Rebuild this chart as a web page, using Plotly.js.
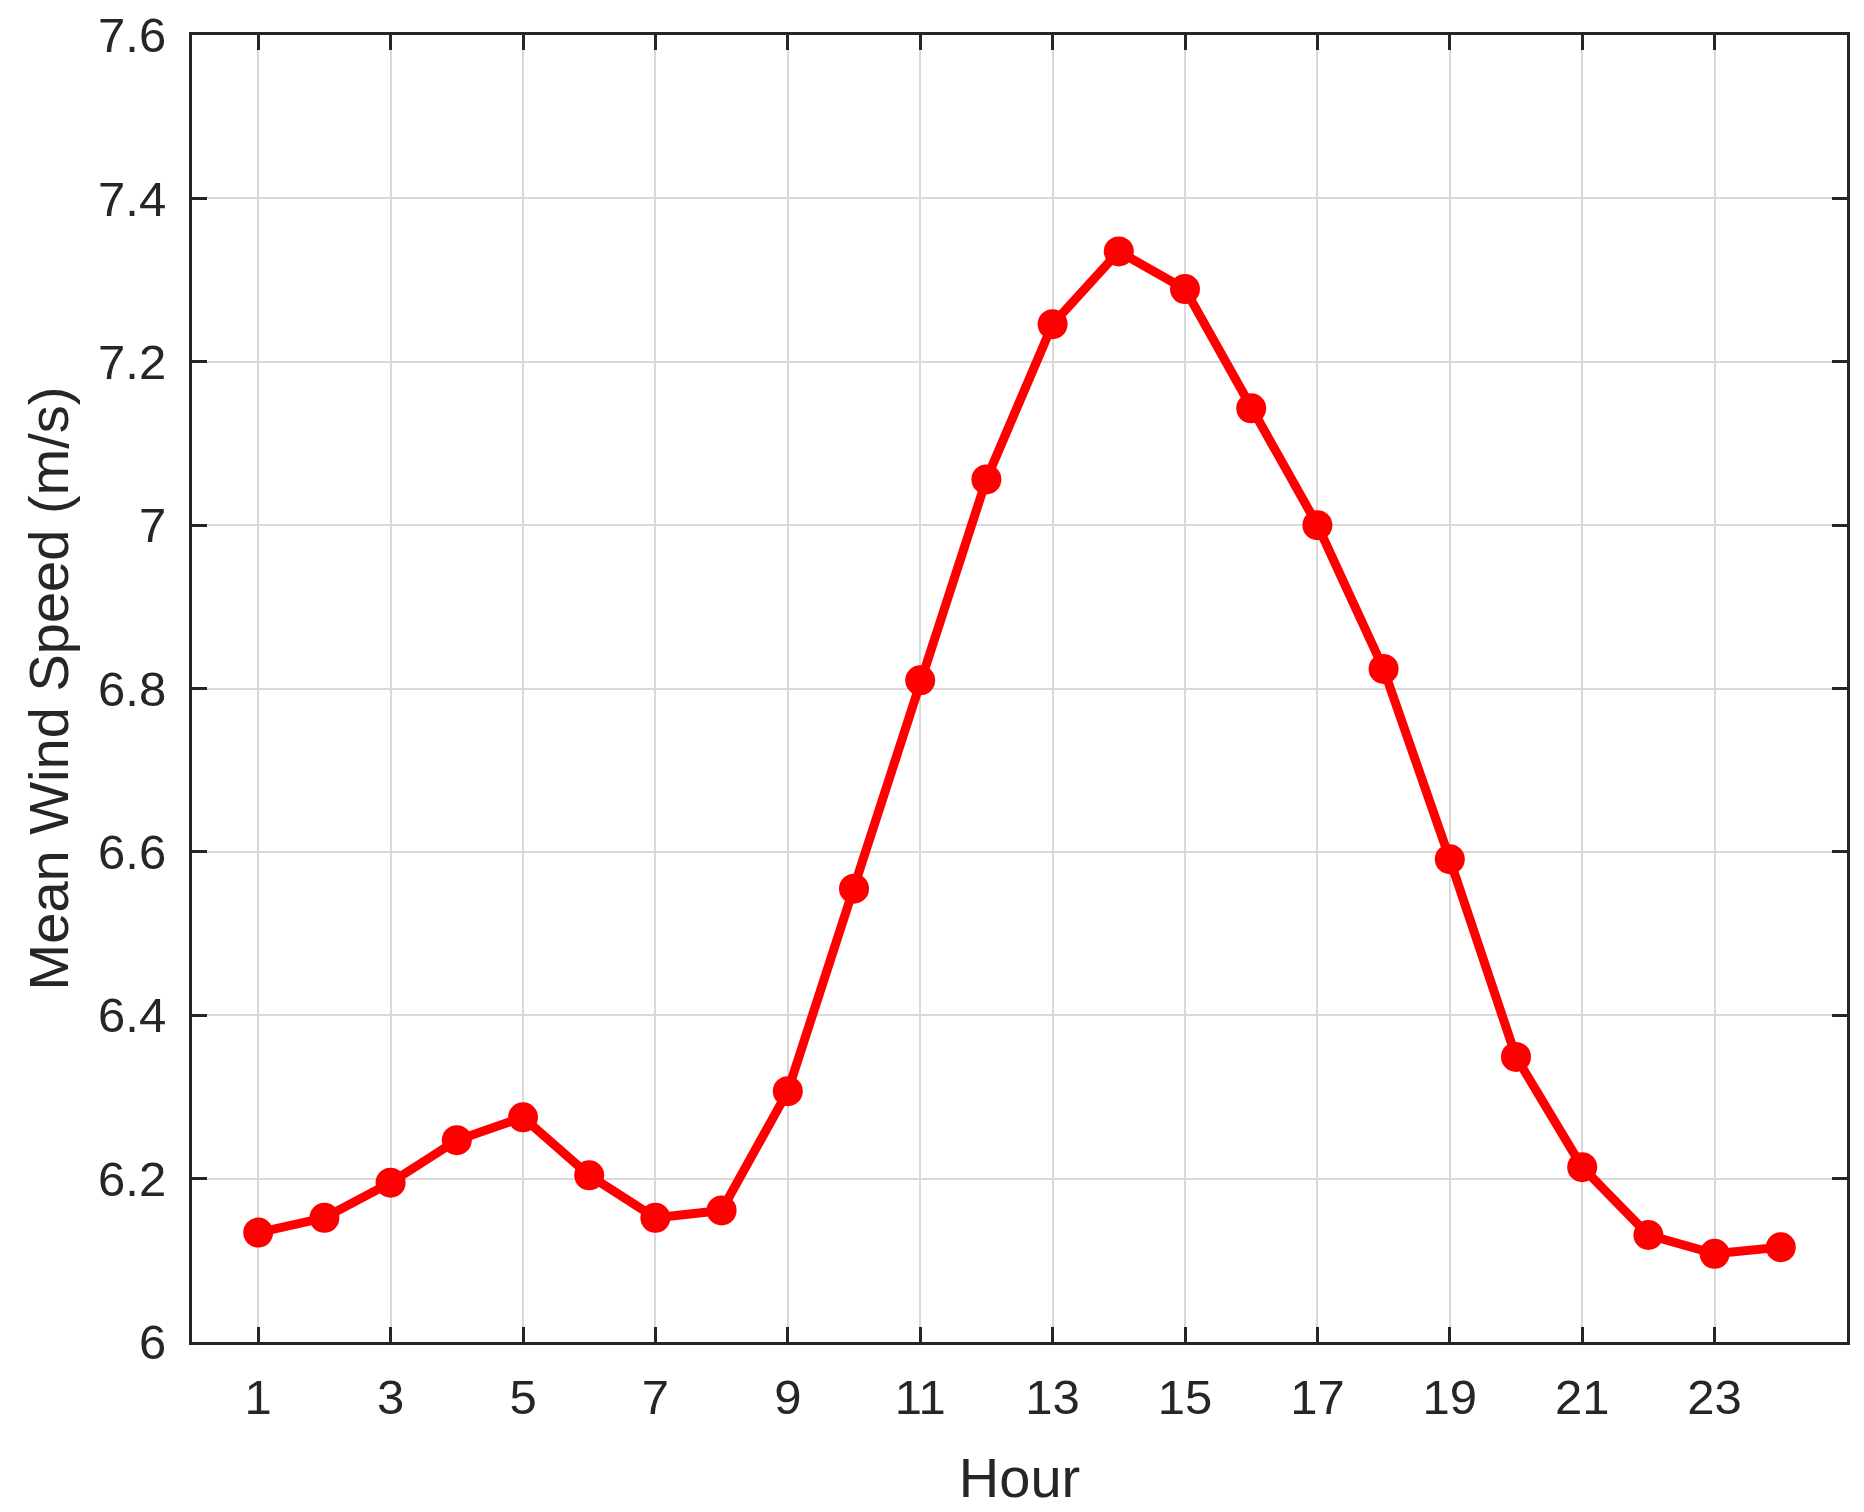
<!DOCTYPE html>
<html>
<head>
<meta charset="utf-8">
<script src="https://cdn.plot.ly/plotly-3.0.1.min.js"></script>
<style>
  html, body { margin: 0; padding: 0; background: #fff; }
  #chart { width: 1864px; height: 1512px; }
</style>
</head>
<body>
<div id="chart"></div>
<script>
// Mean wind speed by hour of day
const hours = [1, 2, 3, 4, 5, 6, 7, 8, 9, 10, 11, 12, 13, 14, 15, 16, 17, 18, 19, 20, 21, 22, 23, 24];
const meanSpeed = [6.134, 6.152, 6.195, 6.247, 6.275, 6.204, 6.152, 6.161, 6.307, 6.555, 6.810, 7.056,
                   7.246, 7.335, 7.289, 7.143, 7.000, 6.824, 6.591, 6.349, 6.214, 6.131, 6.108, 6.116];

const xTickVals = [1, 3, 5, 7, 9, 11, 13, 15, 17, 19, 21, 23];
const yTickVals = [6, 6.2, 6.4, 6.6, 6.8, 7, 7.2, 7.4, 7.6];
const yTickText = ['6', '6.2', '6.4', '6.6', '6.8', '7', '7.2', '7.4', '7.6'];

const ink = '#262626';
const gridColor = '#d9d9d9';

const trace = {
  x: hours,
  y: meanSpeed,
  type: 'scatter',
  mode: 'lines+markers',
  line: { color: '#ff0000', width: 9 },
  marker: { color: '#ff0000', size: 30, line: { width: 0 } },
  hoverinfo: 'x+y'
};

const axisCommon = {
  showline: true,
  linecolor: ink,
  linewidth: 3,
  mirror: 'ticks',
  ticks: 'inside',
  ticklen: 15,
  tickwidth: 3,
  tickcolor: ink,
  showgrid: true,
  gridcolor: gridColor,
  gridwidth: 2,
  zeroline: false,
  tickfont: { family: 'Liberation Sans, Arial, sans-serif', size: 49, color: ink }
};

Plotly.newPlot('chart', [trace], {
  width: 1864,
  height: 1512,
  margin: { l: 192, r: 17, t: 35, b: 170 },
  paper_bgcolor: '#fff',
  plot_bgcolor: '#fff',
  showlegend: false,
  font: { family: 'Liberation Sans, Arial, sans-serif', color: ink },
  xaxis: Object.assign({}, axisCommon, {
    range: [0, 25],
    tickmode: 'array',
    tickvals: xTickVals,
    ticklabelstandoff: 10,
    title: { text: 'Hour', font: { size: 56, color: ink }, standoff: 36 }
  }),
  yaxis: Object.assign({}, axisCommon, {
    range: [6, 7.6],
    tickmode: 'array',
    tickvals: yTickVals,
    ticktext: yTickText,
    ticklabelstandoff: 13,
    title: { text: 'Mean Wind Speed (m/s)', font: { size: 56, color: ink }, standoff: 12 }
  })
}, { displayModeBar: false, staticPlot: true });
</script>
</body>
</html>
